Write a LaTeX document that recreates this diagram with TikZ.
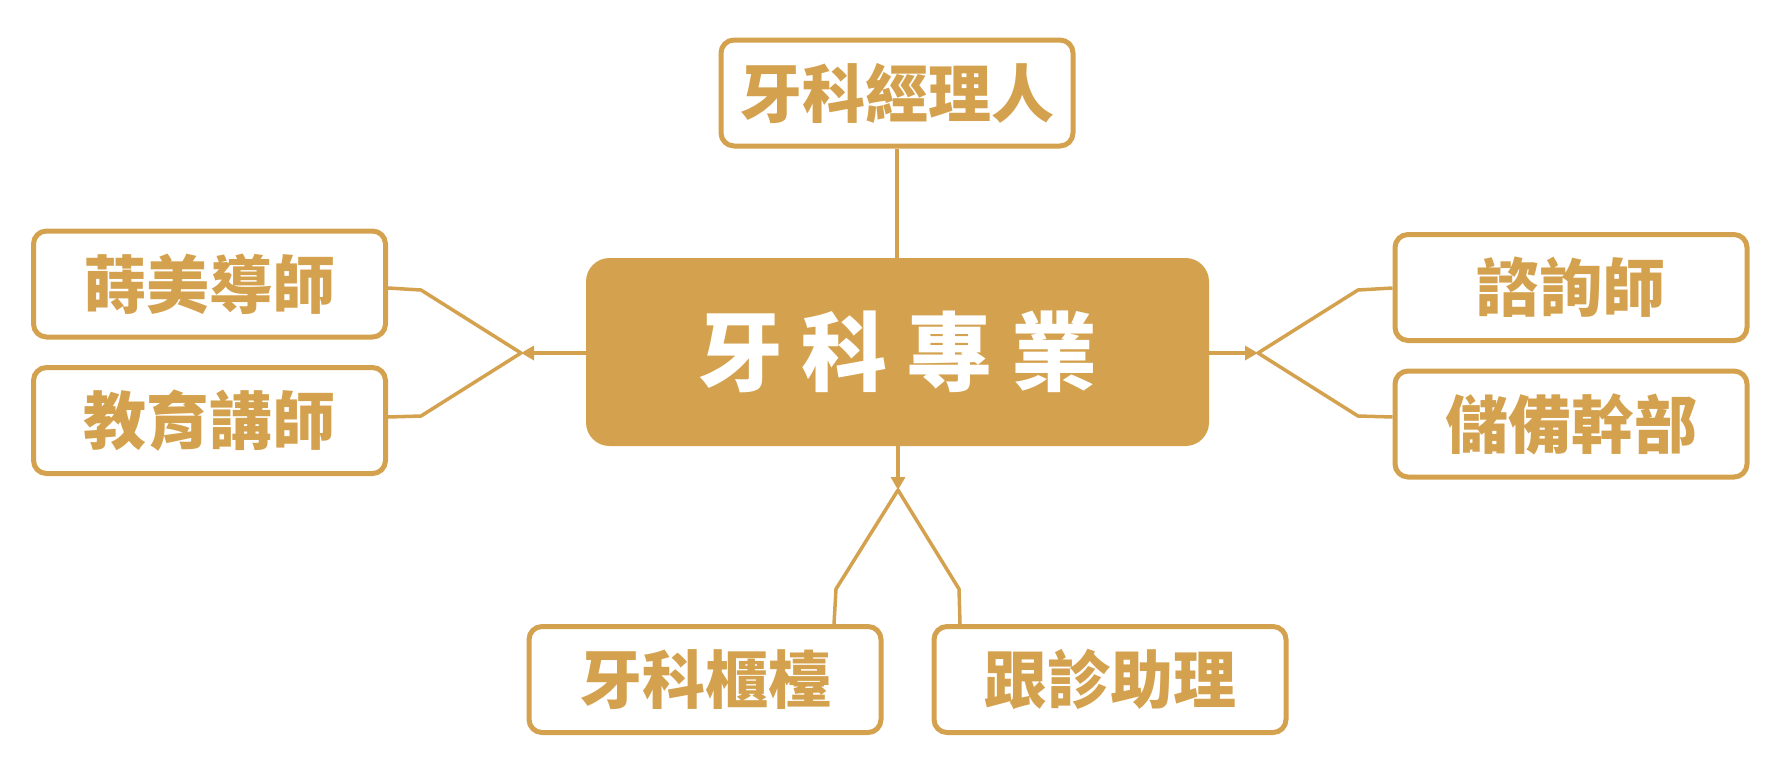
\documentclass[tikz,border=0pt]{standalone}
\usepackage{fontspec}
\newfontfamily\cjkb{Noto Sans CJK TC Black}
\usetikzlibrary{arrows.meta}
\definecolor{gold}{RGB}{212,162,78}
\tikzset{
  leaf/.style={draw=gold, line width=5pt, rounded corners=13pt, fill=white,
    minimum width=352pt, minimum height=106pt, inner sep=0pt,
    text=gold, font=\cjkb\fontsize{63}{63}\selectfont},
  hub/.style={draw=gold, fill=gold, line width=3pt, rounded corners=22pt,
    minimum width=620pt, minimum height=185pt, inner sep=0pt,
    text=white, font=\cjkb\fontsize{86}{86}\selectfont},
  link/.style={draw=gold, line width=3.5pt, line join=round},
  tip/.style={-{Triangle[length=13pt,width=14pt]}}
}
\begin{document}
\begin{tikzpicture}[x=1pt,y=-1pt]
\useasboundingbox (0,0) rectangle (1785,782);
% nodes
\node[hub] (hub) at (897.5,352) {牙\hspace{19pt}科\hspace{19pt}專\hspace{19pt}業};
\node[leaf] (mgr) at (897,93) {牙科經理人};
\node[leaf] (l1) at (209.5,284) {蒔美導師};
\node[leaf] (l2) at (209.5,420.5) {教育講師};
\node[leaf] (r1) at (1571,287.5) {諮詢師};
\node[leaf] (r2) at (1571,424) {儲備幹部};
\node[leaf] (b1) at (705,679.5) {牙科櫃檯};
\node[leaf] (b2) at (1110,679.5) {跟診助理};
% fork coordinates
\coordinate (lf) at (521,353);
\coordinate (lk1) at (421,290);
\coordinate (lk2) at (421,416);
\coordinate (rf) at (1258,353);
\coordinate (rk1) at (1358,290);
\coordinate (rk2) at (1358,416);
\coordinate (bf) at (898,490);
\coordinate (bk1) at (836,589);
\coordinate (bk2) at (959,589);
% connectors
\draw[link] (mgr.south) -- (mgr.south |- hub.north);
\draw[link,tip] (hub.west |- lf) -- (lf);
\draw[link] (l1.east |- 0,288) -- (lk1) -- (lf) -- (lk2) -- (l2.east |- 0,417);
\draw[link,tip] (hub.east |- rf) -- (rf);
\draw[link] (r1.west |- 0,288) -- (rk1) -- (rf) -- (rk2) -- (r2.west |- 0,417);
\draw[link,tip] (hub.south -| bf) -- (bf);
\draw[link] (b1.north -| 834,0) -- (bk1) -- (bf) -- (bk2) -- (b2.north -| 960,0);
\end{tikzpicture}
\end{document}
